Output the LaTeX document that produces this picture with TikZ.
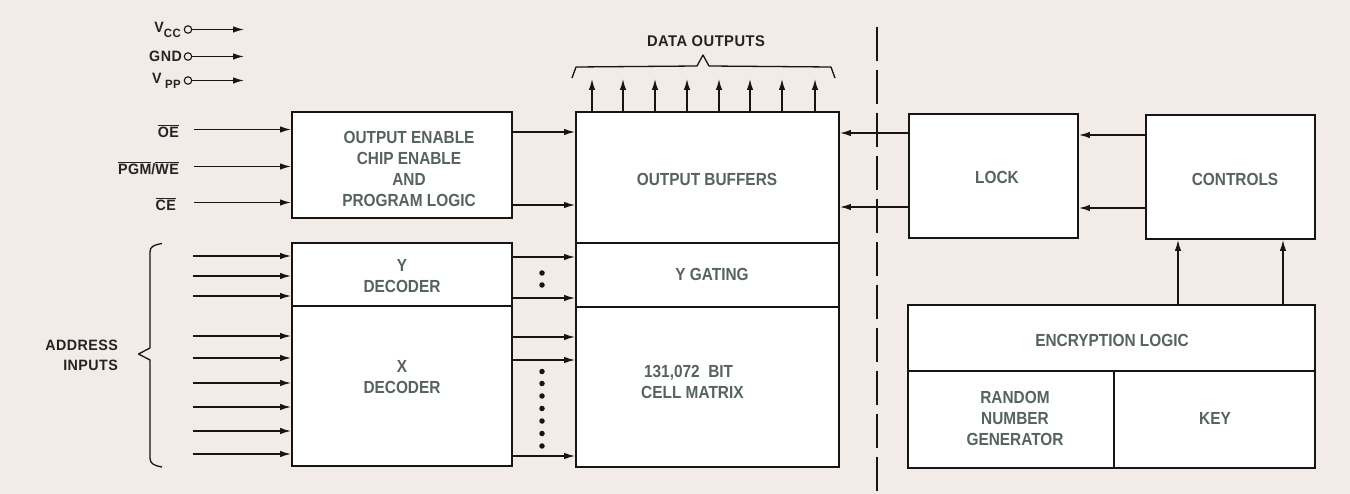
\documentclass[tikz,border=0pt]{standalone}
\usepackage{fontspec}
\setmainfont{Liberation Sans}
\newfontfamily\boxfam{Liberation Sans}[FakeStretch=0.88]
\newfontfamily\lblfam{Liberation Sans}[FakeStretch=0.95,LetterSpace=3]
\usetikzlibrary{arrows.meta}
\definecolor{bg}{RGB}{242,235,231}
\definecolor{boxtext}{RGB}{86,100,93}
\definecolor{lbltext}{RGB}{38,34,34}
\definecolor{ln}{RGB}{25,20,20}
\newcommand{\boxfont}{\boxfam\fontsize{17.5}{21}\selectfont\bfseries}
\newcommand{\lblfont}{\lblfam\fontsize{15}{20}\selectfont\bfseries}
\begin{document}
\begin{tikzpicture}[x=1pt,y=-1pt,
  box/.style={draw=ln, fill=white, line width=1.9pt, inner sep=0pt},
  txt/.style={text=boxtext, font=\boxfont, align=center, inner sep=0pt},
  lbl/.style={text=lbltext, font=\lblfont, inner sep=0pt},
  arr/.style={-{Latex[length=11pt,width=6.5pt]}, line width=1.4pt, draw=ln},
  pin/.style={circle, draw=ln, line width=1.1pt, fill=bg, minimum size=7.5pt, inner sep=0pt},
  dot/.style={circle, fill=ln, minimum size=5.5pt, inner sep=0pt},
  brace/.style={draw=ln, line width=1.3pt, line join=round}
]
\useasboundingbox (0,0) rectangle (1350,494);
\fill[bg] (0,0) rectangle (1350,494);

% ---- boxes ----
\node[box, minimum width=220pt, minimum height=106pt] (ctl) at (402,165) {};
\node[box, minimum width=220pt, minimum height=63pt] (yd) at (402,274.5) {};
\node[box, minimum width=220pt, minimum height=160pt] (xd) at (402,386) {};
\node[box, minimum width=263pt, minimum height=131pt] (ob) at (707.5,177.5) {};
\node[box, minimum width=263pt, minimum height=64pt] (yg) at (707.5,275) {};
\node[box, minimum width=263pt, minimum height=160pt] (cm) at (707.5,387) {};
\node[box, minimum width=169pt, minimum height=124pt] (lock) at (993.5,176) {};
\node[box, minimum width=169pt, minimum height=124pt] (ctrls) at (1230.5,177) {};
\node[box, minimum width=407pt, minimum height=66pt] (enc) at (1111.5,338) {};
\node[box, minimum width=206pt, minimum height=97pt] (rng) at (1011,419.5) {};
\node[box, minimum width=201pt, minimum height=97pt] (key) at (1214.5,419.5) {};

% ---- box texts ----
\node[txt] (ctlt) at (409,169) {OUTPUT ENABLE\\CHIP ENABLE\\AND\\PROGRAM LOGIC};
\node[txt] (ydt) at (402,276) {Y\\DECODER};
\node[txt] (xdt) at (402,377) {X\\DECODER};
\node[txt] (obt) at (707,179) {OUTPUT BUFFERS};
\node[txt] (ygt) at (712,274) {Y GATING};
\node[txt, align=left, anchor=west] (cmt) at (641,382) {\,131,072\ \ BIT\\CELL MATRIX};
\node[txt] (lockt) at (997,177) {LOCK};
\node[txt] (ctrlst) at (1235,179) {CONTROLS};
\node[txt] (enct) at (1112,340) {ENCRYPTION LOGIC};
\node[txt] (rngt) at (1015,418) {RANDOM\\NUMBER\\GENERATOR};
\node[txt] (keyt) at (1215,418) {KEY};

% ---- power pins ----
\node[pin] (vcc) at (188,29.5) {};
\node[pin] (gnd) at (188,56.5) {};
\node[pin] (vpp) at (188,80.5) {};
\coordinate (vcce) at (244,29.5);
\coordinate (gnde) at (244,56.5);
\coordinate (vppe) at (244,80.5);
\draw[arr] (vcc) -- (vcce);
\draw[arr] (gnd) -- (gnde);
\draw[arr] (vpp) -- (vppe);
\node[lbl, anchor=east] (vccl) at (181,29.5) {V\raisebox{-5pt}{\lblfam\fontsize{12}{12}\selectfont\bfseries CC}};
\node[lbl, anchor=east] (gndl) at (182,56.5) {GND};
\node[lbl, anchor=east] (vppl) at (181,80.5) {V\raisebox{-5pt}{\lblfam\fontsize{12}{12}\selectfont\bfseries\ PP}};

% ---- control inputs ----
\node[lbl, anchor=east] (oel) at (179,131) {$\overline{\mbox{OE}}$};
\node[lbl, anchor=east] (pgml) at (179,168) {$\overline{\mbox{PGM}}$/$\overline{\mbox{WE}}$};
\node[lbl, anchor=east] (cel) at (176,204) {$\overline{\mbox{CE}}$};
\coordinate (oein) at (194,129.5);
\coordinate (pgmin) at (194,166.5);
\coordinate (cein) at (194,202.5);
\draw[arr] (oein) -- (ctl.west |- oein);
\draw[arr] (pgmin) -- (ctl.west |- pgmin);
\draw[arr] (cein) -- (ctl.west |- cein);

% ---- control -> buffers ----
\draw[arr] (ctl.east |- 0,132) -- (ob.west |- 0,132);
\draw[arr] (ctl.east |- 0,205) -- (ob.west |- 0,205);

% ---- data outputs ----
\foreach \i/\x in {1/592,2/623,3/655,4/687,5/719,6/750,7/782,8/815}{
  \coordinate (do\i) at (\x,79);
  \draw[arr] (ob.north -| do\i) -- (do\i);
}
\coordinate (brL) at (572,78);
\coordinate (brR) at (835,78);
\draw[brace] (brL) -- (576,67) -- (697,66) -- (703,55) -- (709,66) -- (831,67) -- (brR);
\node[lbl, font=\lblfam\fontsize{15.5}{20}\selectfont\bfseries] (dol) at (706,41) {DATA OUTPUTS};

% ---- address inputs ----
\foreach \i/\y in {1/256,2/276,3/296}{
  \coordinate (ya\i) at (193,\y);
  \draw[arr] (ya\i) -- (yd.west |- ya\i);
}
\foreach \i/\y in {1/336,2/358,3/383,4/407,5/431,6/454}{
  \coordinate (xa\i) at (193,\y);
  \draw[arr] (xa\i) -- (xd.west |- xa\i);
}
\coordinate (abT) at (162,243.5);
\coordinate (abB) at (162,467);
\draw[brace] (abT) .. controls (153,245) and (150,247) .. (150,252) -- (150,348) -- (138.5,354) -- (150,360) -- (150,458) .. controls (150,463) and (153,465.5) .. (abB);
\node[lbl, align=right, anchor=east] (adl) at (118,355) {ADDRESS\\INPUTS};

% ---- decoder -> gating / matrix ----
\foreach \y in {257,298}{
  \draw[arr] (yd.east |- 0,\y) -- (yg.west |- 0,\y);
}
\foreach \y in {337,360,456}{
  \draw[arr] (xd.east |- 0,\y) -- (cm.west |- 0,\y);
}
\node[dot] (yd1) at (542,273) {};
\node[dot] (yd2) at (542,285) {};
\foreach \i/\y in {1/371.5,2/383.5,3/396,4/408.5,5/421,6/433.5,7/446}{
  \node[dot] (xdd\i) at (542,\y) {};
}

% ---- right side ----
\draw[dash pattern=on 34pt off 9pt, line width=2.2pt, draw=ln] (877,27) -- (877,492);
\draw[arr] (lock.west |- 0,133) -- (ob.east |- 0,133);
\draw[arr] (lock.west |- 0,207) -- (ob.east |- 0,207);
\draw[arr] (ctrls.west |- 0,135) -- (lock.east |- 0,135);
\draw[arr] (ctrls.west |- 0,208) -- (lock.east |- 0,208);
\draw[arr] (enc.north -| 1178,0) -- (ctrls.south -| 1178,0);
\draw[arr] (enc.north -| 1283,0) -- (ctrls.south -| 1283,0);
\end{tikzpicture}
\end{document}
